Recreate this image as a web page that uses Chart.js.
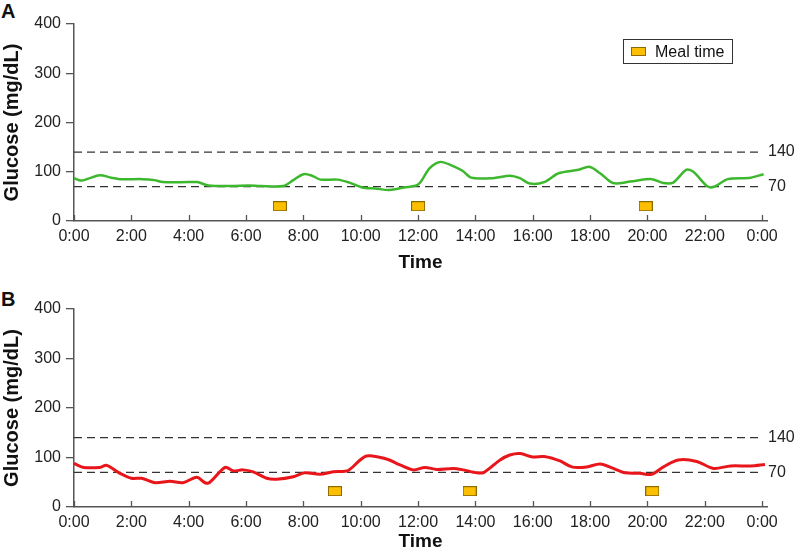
<!DOCTYPE html>
<html lang="en">
<head>
    <meta charset="UTF-8">
    <script src="https://cdn.jsdelivr.net/npm/chart.js"></script>
    <style>
        body { margin: 0; background: #fff; font-family: "Liberation Sans", Arial, sans-serif; }
        .wrap { position: relative; width: 795px; height: 555px; }
        canvas { position: absolute; left: 0; }
        .panel { position: absolute; left: 1px; font-weight: bold; font-size: 20px; line-height: 20px; color: #111; }
        .legend {
            position: absolute; left: 623px; top: 39px; width: 110px; height: 25px;
            border: 1px solid #333; box-sizing: border-box; font-size: 16px; color: #111;
        }
        .legend .sw {
            position: absolute; left: 7px; top: 7px; width: 15px; height: 9px;
            background: #fbbf00; border: 1px solid #8b6b00; box-sizing: border-box;
        }
        .legend .tx { position: absolute; left: 31px; top: 2px; line-height: 19px; }
    </style>
    <title>Glucose profiles</title>
</head>
<body>
<div class="wrap">
    <div class="panel" style="top:1px">A</div>
    <canvas id="chartA" width="795" height="285" style="top:0"></canvas>
    <div class="legend"><span class="sw"></span><span class="tx">Meal time</span></div>
    <div class="panel" style="top:289px">B</div>
    <canvas id="chartB" width="795" height="270" style="top:285px"></canvas>
</div>

<script>
    // horas do dia (0-24) e glicose
    const timesA = [0, 0.25, 0.5, 0.9, 1.3, 1.6, 2.4, 2.8, 3.1, 4.0, 4.3, 4.7, 5.5, 6.1, 6.5, 7.3, 7.65, 8.0, 8.3, 8.6,
        9.2, 9.6, 10.05, 10.5, 11.0, 11.5, 12.0, 12.4, 12.77, 13.2, 13.55, 13.85, 14.6, 15.2, 15.55, 15.9, 16.4, 16.9,
        17.6, 17.97, 18.35, 18.8, 19.4, 20.15, 20.55, 20.9, 21.35, 21.6, 22.1, 22.35, 22.8, 23.6, 24.05];
    const glucoseA = [87, 82, 86, 93, 88, 85, 85, 83, 79, 79, 79, 72, 71, 72, 71, 71, 83, 95, 92, 84,
        84, 78, 68, 66, 63, 68, 74, 107, 120, 112, 102, 88, 87, 92, 87, 76, 79, 97,
        104, 110, 97, 77, 80, 85, 77, 78, 104, 100, 70, 70, 85, 88, 95];

    const timesB = [0, 0.33, 0.9, 1.14, 1.6, 2.0, 2.36, 2.83, 3.35, 3.8, 4.28, 4.57, 4.74, 5.27, 5.56, 5.9, 6.25, 6.72,
        7.07, 7.65, 8.05, 8.58, 9.04, 9.45, 9.6, 10.2, 10.9, 11.37, 11.83, 12.24, 12.65, 13.23, 13.58, 14.05, 14.3,
        14.86, 15.2, 15.56, 16.0, 16.4, 16.95, 17.36, 17.88, 18.35, 18.81, 19.22, 19.74, 20.15, 20.56, 21.08, 21.72,
        22.3, 22.9, 23.6, 24.1];
    const glucoseB = [88, 80, 80, 84, 68, 58, 58, 49, 52, 49, 60, 49, 50, 80, 73, 75, 71, 58,
        56, 61, 69, 66, 71, 72, 75, 103, 97, 85, 75, 80, 76, 78, 75, 69, 70,
        95, 105, 108, 101, 102, 93, 81, 81, 87, 78, 69, 68, 66, 81, 95, 92,
        78, 83, 83, 86];

    const mealTimesA = [7.18, 12.0, 19.94];
    const mealTimesB = [9.1, 13.8, 20.17];
    const mealMarkA = 30;
    const mealMarkB = 32;

    const targetLow = 70;
    const targetHigh = 140;
    const xTickHours = [0, 2, 4, 6, 8, 10, 12, 14, 16, 18, 20, 22, 24];
    const yTicks = [0, 100, 200, 300, 400];

    const FONT = '"Liberation Sans", Arial, sans-serif';

    // marcador retangular das refeicoes
    const mealIcon = document.createElement('canvas');
    mealIcon.width = 14; mealIcon.height = 10;
    (function () {
        const c = mealIcon.getContext('2d');
        c.fillStyle = '#fbbf00';
        c.fillRect(0, 0, 14, 10);
        c.strokeStyle = '#8b6b00';
        c.lineWidth = 1;
        c.strokeRect(0.5, 0.5, 13, 9);
    })();

    // ticks do eixo x apontando para dentro
    const innerTicks = {
        id: 'innerTicks',
        afterDraw(chart) {
            const sx = chart.scales.x, ctx = chart.ctx, b = chart.chartArea.bottom;
            ctx.save();
            ctx.strokeStyle = '#555';
            ctx.lineWidth = 1.3;
            sx.ticks.forEach(t => {
                const px = Math.round(sx.getPixelForValue(t.value)) + 0.5;
                ctx.beginPath();
                ctx.moveTo(px, b);
                ctx.lineTo(px, b - 6);
                ctx.stroke();
            });
            ctx.restore();
        }
    };

    function toPoints(xs, ys) {
        return xs.map((x, i) => ({ x: x, y: ys[i] }));
    }

    function hLine(v) {
        return {
            data: [{ x: 0, y: v }, { x: 24, y: v }],
            borderColor: '#333', borderWidth: 1.3, borderDash: [8, 5],
            pointRadius: 0, tension: 0
        };
    }

    function makePanel(id, times, values, color, width, meals, mealY, xAxisH, titlePad) {
        const ctx = document.getElementById(id).getContext('2d');
        return new Chart(ctx, {
            type: 'scatter',
            data: {
                datasets: [
                    {
                        data: toPoints(times, values), showLine: true,
                        borderColor: color, borderWidth: width, pointRadius: 0, tension: 0.3
                    },
                    {
                        data: meals.map(m => ({ x: m, y: mealY })),
                        pointStyle: mealIcon, pointRadius: 7
                    },
                    Object.assign({ showLine: true }, hLine(targetHigh)),
                    Object.assign({ showLine: true }, hLine(targetLow))
                ]
            },
            options: {
                responsive: false,
                animation: false,
                layout: { padding: { top: 24, right: 0, bottom: 0, left: 0 } },
                plugins: { legend: { display: false }, tooltip: { enabled: false } },
                scales: {
                    x: {
                        type: 'linear', min: 0, max: 24.17,
                        afterBuildTicks: s => { s.ticks = xTickHours.map(v => ({ value: v })); },
                        afterFit: s => { s.height = xAxisH; },
                        ticks: {
                            callback: v => (v % 24) + ':00',
                            font: { family: FONT, size: 16 }, color: '#222', padding: 6, maxRotation: 0
                        },
                        grid: { drawOnChartArea: false, drawTicks: false },
                        border: { color: '#555', width: 1.5 },
                        title: {
                            display: true, text: 'Time', color: '#111',
                            font: { family: FONT, size: 19, weight: 'bold' },
                            padding: { top: 0, bottom: titlePad }
                        }
                    },
                    y: {
                        min: 0, max: 400,
                        afterBuildTicks: s => { s.ticks = yTicks.map(v => ({ value: v })); },
                        afterFit: s => { s.width = 74; },
                        ticks: { font: { family: FONT, size: 16 }, color: '#222', padding: 5 },
                        grid: { drawOnChartArea: false, tickLength: 8, color: '#555', lineWidth: 1.3 },
                        border: { color: '#555', width: 1.5 },
                        title: {
                            display: true, text: 'Glucose (mg/dL)', color: '#111',
                            font: { family: FONT, size: 20, weight: 'bold' },
                            padding: { top: 0, bottom: 0 }
                        }
                    },
                    y2: {
                        position: 'right', min: 0, max: 400,
                        afterBuildTicks: s => { s.ticks = [targetLow, targetHigh].map(v => ({ value: v })); },
                        afterFit: s => { s.width = 28; },
                        ticks: { font: { family: FONT, size: 16 }, color: '#222', padding: 1 },
                        grid: { display: false, drawTicks: false },
                        border: { display: false }
                    }
                }
            },
            plugins: [innerTicks]
        });
    }

    makePanel('chartA', timesA, glucoseA, '#3db82e', 2.5, mealTimesA, mealMarkA, 64, 10.6);
    makePanel('chartB', timesB, glucoseB, '#e8161b', 3, mealTimesB, mealMarkB, 48, 1.6);
</script>
</body>
</html>
